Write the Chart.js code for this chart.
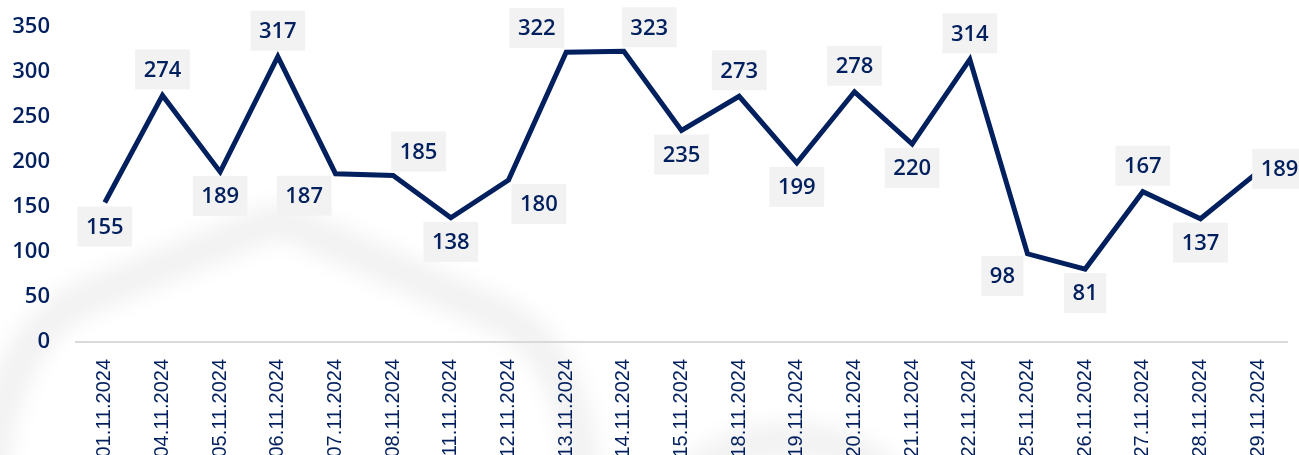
<!DOCTYPE html>
<html>
<head>
<meta charset="utf-8">
<script src="https://cdn.jsdelivr.net/npm/chart.js@4/dist/chart.umd.min.js"></script>
<style>
  html, body { margin:0; padding:0; background:#fff; }
  #wrap { width:1299px; height:455px; }
</style>
</head>
<body>
<div id="wrap"><canvas id="chart" width="1299" height="455"></canvas></div>
<script>
// ---------- dados ----------
const dates = ["01.11.2024","04.11.2024","05.11.2024","06.11.2024","07.11.2024","08.11.2024","11.11.2024","12.11.2024","13.11.2024","14.11.2024","15.11.2024","18.11.2024","19.11.2024","20.11.2024","21.11.2024","22.11.2024","25.11.2024","26.11.2024","27.11.2024","28.11.2024","29.11.2024"];
const values = [155, 274, 189, 317, 187, 185, 138, 180, 322, 323, 235, 273, 199, 278, 220, 314, 98, 81, 167, 137, 189];
const yTicks = [0, 50, 100, 150, 200, 250, 300, 350];
// where each data label sits relative to its point
const labelPlacement = ["below","above","below","above","belowLeft","aboveRight","below","belowRight","aboveLeft","aboveRight","below","above","below","above","below","above","belowLeft","below","above","below","right"];

const NAVY = '#03205e';

// ---------- watermark (faint logo shapes behind the chart) ----------
const watermark = {
  id: 'watermark',
  beforeDraw(chart){
    const ctx = chart.ctx;
    ctx.save();
    ctx.filter = 'blur(10px)';
    ctx.strokeStyle = 'rgba(0,0,0,0.05)';
    ctx.lineWidth = 36;
    ctx.lineJoin = 'round';
    ctx.lineCap = 'round';
    ctx.beginPath();
    ctx.moveTo(-10, 470);
    ctx.quadraticCurveTo(5, 340, 80, 300);
    ctx.lineTo(262, 226);
    ctx.quadraticCurveTo(280, 218, 298, 227);
    ctx.lineTo(505, 318);
    ctx.quadraticCurveTo(572, 355, 582, 470);
    ctx.stroke();
    ctx.beginPath();
    ctx.arc(790, 590, 150, Math.PI * 1.15, Math.PI * 1.85);
    ctx.stroke();
    ctx.restore();
  }
};

// ---------- rótulos com caixa cinza ----------
const boxLabels = {
  id: 'boxLabels',
  afterDatasetsDraw(chart){
    const ctx = chart.ctx;
    const meta = chart.getDatasetMeta(0);
    ctx.save();
    ctx.font = '600 22px "Open Sans", sans-serif';
    ctx.textAlign = 'center';
    ctx.textBaseline = 'middle';
    meta.data.forEach((pt, i) => {
      const txt = String(values[i]);
      const w = ctx.measureText(txt).width + 17;
      const h = 40;
      const px = pt.x, py = pt.y;
      let left, top;
      switch(labelPlacement[i]){
        case 'above':      left = px - w/2; top = py - 6 - h; break;
        case 'below':      left = px - w/2; top = py + 4; break;
        case 'belowLeft':  left = px - 4 - w; top = py + 2; break;
        case 'belowRight': left = px + 3; top = py + 4; break;
        case 'aboveLeft':  left = px - 2 - w; top = py - 4 - h; break;
        case 'aboveRight': left = px - 2; top = py - 4 - h; break;
        case 'right':      left = px - 6; top = py - 3 - h/2; break;
      }
      ctx.fillStyle = '#f2f2f2';
      ctx.fillRect(left, top, w, h);
      ctx.fillStyle = NAVY;
      ctx.fillText(txt, left + w/2, top + h/2 + 1);
    });
    ctx.restore();
  }
};

new Chart(document.getElementById('chart').getContext('2d'), {
  type: 'line',
  data: {
    labels: dates,
    datasets: [{
      data: values,
      borderColor: NAVY,
      borderWidth: 5,
      borderJoinStyle: 'miter',
      pointRadius: 0,
      tension: 0,
      fill: false
    }]
  },
  options: {
    responsive: false,
    animation: false,
    devicePixelRatio: 1,
    layout: { padding: { top: 27, right: 12, left: 0, bottom: 0 } },
    plugins: { legend: { display: false }, tooltip: { enabled: false } },
    scales: {
      x: {
        offset: true,
        grid: { display: false, drawTicks: false },
        border: { display: true, color: '#d9d9d9', width: 2 },
        ticks: {
          autoSkip: false,
          minRotation: 90,
          maxRotation: 90,
          padding: 17,
          color: NAVY,
          font: { family: '"Liberation Sans", Arial, sans-serif', size: 20 }
        },
        afterFit(scale){ scale.height = 113; scale.paddingLeft = 0; scale.paddingRight = 0; }
      },
      y: {
        min: yTicks[0],
        max: yTicks[yTicks.length - 1],
        afterBuildTicks(scale){ scale.ticks = yTicks.map(v => ({ value: v })); },
        grid: { display: false, drawTicks: false },
        border: { display: false },
        ticks: {
          padding: 26,
          color: NAVY,
          font: { family: '"Open Sans", sans-serif', size: 22, weight: '600' }
        },
        afterFit(scale){ scale.width = 76; scale.paddingTop = 0; scale.paddingBottom = 0; }
      }
    }
  },
  plugins: [watermark, boxLabels]
});
</script>
</body>
</html>
